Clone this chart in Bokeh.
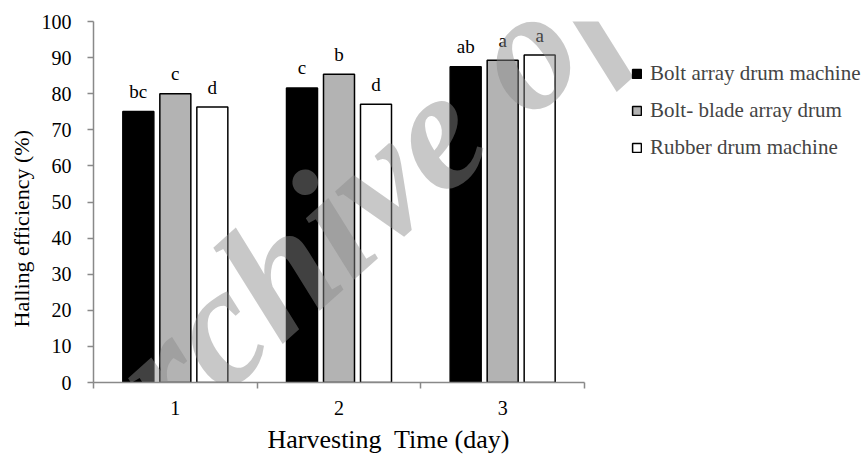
import math
from bokeh.plotting import figure
from bokeh.models import ColumnDataSource, FixedTicker, Label, Legend, LegendItem, Range1d, Title
from bokeh.transform import dodge
from bokeh.core.properties import value
from bokeh.embed import file_html
from bokeh.resources import INLINE

# ---------------- data ----------------
days = ["1", "2", "3"]
bolt_array = [75.1, 81.6, 87.5]
bolt_blade = [80.0, 85.4, 89.3]
rubber = [76.3, 77.1, 90.7]
letters_bolt = ["bc", "c", "ab"]
letters_blade = ["c", "b", "a"]
letters_rubber = ["d", "d", "a"]
series_names = ["Bolt array drum machine", "Bolt- blade array drum", "Rubber drum machine"]
y_ticks = [0, 10, 20, 30, 40, 50, 60, 70, 80, 90, 100]
x_title = "Harvesting\u00a0 Time (day)"
y_title = "Halling efficiency (%)"

# ---------------- layout ----------------
W, H = 862, 460
LEFT, TOP = 93, 21
FRAME_BOTTOM = 382
BOTTOM = H - FRAME_BOTTOM
AXIS_PX = 491.0
px_per_cat = AXIS_PX / len(days)
x_end = (W - LEFT) / px_per_cat
bar_w = 31 / px_per_cat
off = 37 / px_per_cat
FONT = "'Liberation Serif'"
AXIS_COLOR = "#898989"

xs = [i + 0.5 for i in range(len(days))]
src = ColumnDataSource(dict(x=xs, bolt=bolt_array, blade=bolt_blade, rub=rubber,
                            lb=letters_bolt, lbl=letters_blade, lr=letters_rubber))

p = figure(width=W, height=H, x_range=Range1d(0, x_end), y_range=Range1d(0, 100),
           output_backend="svg", toolbar_location=None,
           min_border_left=LEFT, min_border_right=0, min_border_top=TOP,
           min_border_bottom=BOTTOM)
p.outline_line_color = None
p.xgrid.grid_line_color = None
p.ygrid.grid_line_color = None
p.background_fill_color = "white"

r1 = p.vbar(x=dodge("x", -off, range=p.x_range), top="bolt", width=bar_w, source=src,
            fill_color="black", line_color="black", line_width=1.5)
r2 = p.vbar(x=dodge("x", 0, range=p.x_range), top="blade", width=bar_w, source=src,
            fill_color="#b3b3b3", line_color="black", line_width=1.5)
r3 = p.vbar(x=dodge("x", off, range=p.x_range), top="rub", width=bar_w, source=src,
            fill_color="white", line_color="black", line_width=1.5)

for dx, col, txt in [(-off, "bolt", "lb"), (0, "blade", "lbl"), (off, "rub", "lr")]:
    p.text(x=dodge("x", dx, range=p.x_range), y=col, text=txt, source=src,
           text_align="center", text_baseline="alphabetic", y_offset=-20,
           text_font=value(FONT), text_font_size="19px", text_color="black")

# x axis
xa = p.xaxis[0]
xa.ticker = FixedTicker(ticks=xs, minor_ticks=[0, 1, 2, 3])
xa.major_label_overrides = {x: d for x, d in zip(xs, days)}
xa.bounds = (0, len(days))
xa.major_tick_out = 0
xa.major_tick_in = 0
xa.minor_tick_out = 6
xa.minor_tick_in = 0
xa.minor_tick_line_color = AXIS_COLOR
xa.minor_tick_line_width = 1.5
xa.axis_line_color = AXIS_COLOR
xa.axis_line_width = 1.5
xa.major_label_standoff = 12
xa.major_label_text_font = FONT
xa.major_label_text_font_size = "20px"
xa.major_label_text_color = "black"

p.add_layout(Title(text=x_title, align="left", offset=174, standoff=11,
                   text_font=FONT, text_font_size="26px", text_font_style="normal",
                   text_color="black"), "below")

# y axis
ya = p.yaxis[0]
ya.ticker = FixedTicker(ticks=y_ticks)
ya.bounds = (0, 100)
ya.major_tick_out = 6
ya.major_tick_in = 0
ya.minor_tick_out = 0
ya.minor_tick_in = 0
ya.major_tick_line_color = AXIS_COLOR
ya.major_tick_line_width = 1.5
ya.axis_line_color = AXIS_COLOR
ya.axis_line_width = 1.5
ya.major_label_standoff = 16
ya.major_label_text_font = FONT
ya.major_label_text_font_size = "20px"
ya.major_label_text_color = "black"

p.add_layout(Title(text=y_title, align="left", offset=55, standoff=10,
                   text_font=FONT, text_font_size="22px", text_font_style="normal",
                   text_color="black"), "left")

# legend
legend = Legend(items=[LegendItem(label=series_names[0], renderers=[r1]),
                       LegendItem(label=series_names[1], renderers=[r2]),
                       LegendItem(label=series_names[2], renderers=[r3])],
                location=(538, 222), orientation="vertical",
                glyph_width=11, glyph_height=11, label_standoff=8, spacing=12,
                padding=0, margin=0, border_line_color=None, background_fill_alpha=0,
                label_text_font=FONT, label_text_font_size="21px", label_height=23)
p.add_layout(legend)

# watermark
p.add_layout(Label(x=-41, y=-92, x_units="screen", y_units="screen",
                   text="Archive of", angle=math.radians(42),
                   text_align="left", text_baseline="alphabetic",
                   text_font=FONT, text_font_style="bold italic", text_font_size="170px",
                   text_color="#8a8a8a", text_alpha=0.47))

open("out.html", "w").write(file_html(p, INLINE))
